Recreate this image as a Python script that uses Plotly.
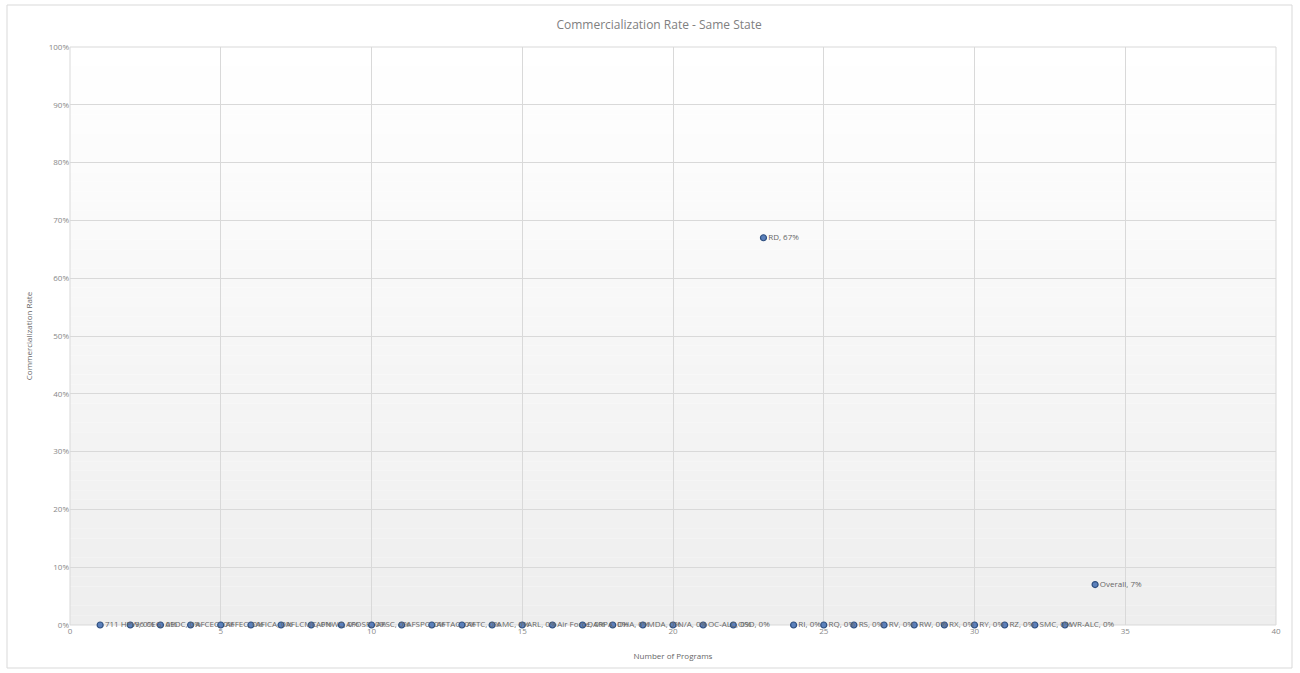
import plotly.graph_objects as go

programs = ["711 HPW", "96 CEG", "AEDC", "AFCEC", "AFFEC", "AFICA", "AFLCMC", "AFNWC",
            "AFOSR", "AFSC", "AFSPC", "AFTAC", "AFTC", "AMC", "ARL", "Air Force", "DARPA",
            "DHA", "MDA", "N/A", "OC-ALC", "OSD", "RD", "RI", "RQ", "RS", "RV", "RW", "RX",
            "RY", "RZ", "SMC", "WR-ALC", "Overall"]
num_programs = list(range(1, 35))
rates = [0, 0, 0, 0, 0, 0, 0, 0, 0, 0, 0, 0, 0, 0, 0, 0, 0, 0, 0, 0, 0, 0, 0.67,
         0, 0, 0, 0, 0, 0, 0, 0, 0, 0, 0.07]

labels = [f"{p}, {round(r*100)}%" for p, r in zip(programs, rates)]

fig = go.Figure()
fig.add_trace(go.Scatter(
    x=num_programs, y=rates, mode="markers+text", text=labels,
    textposition="middle right",
    textfont=dict(family="Open Sans, Calibri, sans-serif", size=8, color="#666666"),
    marker=dict(size=6, color="#5b80bb", line=dict(color="#2f5080", width=1.2)),
    cliponaxis=False, showlegend=False,
))

# Background gradient bands (white at top to light gray at bottom)
shapes = []
n = 60
for i in range(n):
    t = i / (n - 1)
    g = int(round(255 - (255 - 238) * (1 - t)))
    shapes.append(dict(type="rect", xref="paper", yref="paper", x0=0, x1=1,
                       y0=i / n, y1=(i + 1) / n, fillcolor=f"rgb({g},{g},{g})",
                       line=dict(width=0), layer="below"))
# plot area border
shapes.append(dict(type="rect", xref="paper", yref="paper", x0=0, x1=1, y0=0, y1=1,
                   line=dict(color="#d9d9d9", width=1), layer="below"))
# chart outer border
shapes.append(dict(type="rect", xref="paper", yref="paper",
                   x0=(7 - 70) / 1206, x1=(1292 - 70) / 1206,
                   y0=(625 - 668) / 578, y1=(625 - 5) / 578,
                   line=dict(color="#d9d9d9", width=1), layer="below"))

fig.update_layout(
    width=1300, height=673,
    margin=dict(l=70, r=24, t=47, b=48),
    paper_bgcolor="white", plot_bgcolor="white",
    shapes=shapes,
    title=dict(text="Commercialization Rate - Same State", x=0.507, xref="container",
               xanchor="center", y=1 - 25 / 673, yanchor="middle",
               font=dict(family="Open Sans, Calibri, sans-serif", size=12, color="#808080")),
    font=dict(family="Open Sans, Calibri, sans-serif", size=8, color="#888888"),
    xaxis=dict(range=[0, 40], dtick=5, tick0=0, showgrid=True, gridcolor="#d9d9d9",
               zeroline=False, showline=False, ticks="",
               tickfont=dict(size=8, color="#888888"),
               title=dict(text="Number of Programs", font=dict(size=8, color="#666666"),
                          standoff=18)),
    yaxis=dict(range=[0, 1], dtick=0.1, tickformat=".0%", showgrid=True, gridcolor="#d9d9d9",
               zeroline=False, showline=False, ticks="",
               tickfont=dict(size=8, color="#888888"),
               title=dict(text="Commercialization Rate", font=dict(size=8, color="#666666"),
                          standoff=14)),
)

fig.write_html("out.html")
